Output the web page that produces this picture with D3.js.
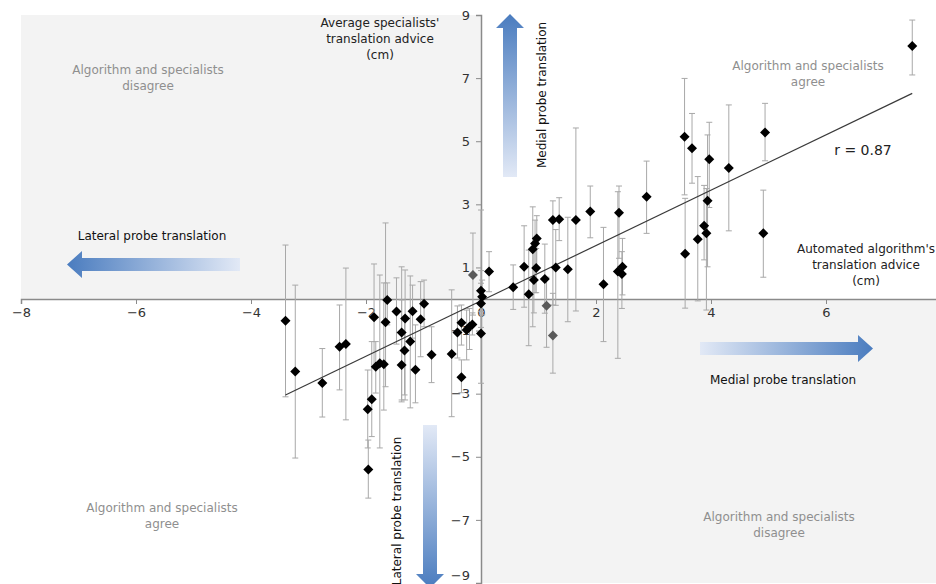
<!DOCTYPE html>
<html>
<head>
<meta charset="utf-8">
<script src="https://cdn.jsdelivr.net/npm/d3@7"></script>
<style>
  body { margin: 0; background: #fff; }
  svg { display: block; font-family: "DejaVu Sans", sans-serif; }
</style>
</head>
<body>
<svg id="chart" width="936" height="584"></svg>
<script>
// automated algorithm advice (cm), x
var algoAdvice = [-3.40,-3.23,-2.76,-2.46,-2.35,-1.97,-1.96,-1.90,-1.86,-1.83,-1.76,-1.69,-1.66,-1.63,-1.47,-1.38,-1.38,-1.33,-1.32,-1.23,-1.19,-1.14,-1.05,-0.99,-0.86,-0.51,-0.41,-0.34,-0.34,-0.25,-0.20,-0.15,-0.14,0.00,0.00,0.02,0.00,0.14,
    0.56,0.75,0.83,0.90,0.92,0.94,0.96,0.97,1.11,1.14,1.25,1.25,1.30,1.36,1.51,1.65,1.90,2.13,2.38,2.40,2.45,2.46,2.88,
    3.54,3.55,3.67,3.77,3.88,3.92,3.94,3.97,4.31,4.91,4.94,7.50];
// average specialists advice (cm), y
var specialistMean = [-0.69,-2.30,-2.66,-1.51,-1.43,-3.49,-5.40,-3.18,-0.58,-2.15,-2.04,-2.07,-0.74,-0.03,-0.40,-1.06,-2.09,-1.63,-0.62,-1.35,-0.39,-2.24,-0.64,-0.15,-1.77,-1.74,-1.06,-0.75,-2.48,-0.98,-0.88,-0.81,0.76,0.26,-0.14,0.07,-1.09,0.87,
    0.37,1.02,0.15,1.58,0.60,1.76,0.98,1.92,0.63,-0.21,2.50,-1.16,1.00,2.53,0.94,2.50,2.77,0.47,0.87,2.73,0.79,1.02,3.24,
    5.14,1.43,4.78,1.89,2.32,2.08,3.11,4.43,4.15,2.08,5.28,8.02];
// spread of specialists advice: upper and lower ends
var specialistHigh = [1.71,0.44,-1.57,-0.19,0.98,-2.25,-4.47,-1.35,1.11,-1.35,0.76,0.51,2.41,0.51,0.67,1.02,-0.03,-0.67,0.92,0.73,0.44,-0.82,0.55,0.60,-0.88,0.29,-0.22,-0.19,-1.93,-0.35,-0.30,-0.44,2.09,0.90,0.50,0.60,2.82,1.50,
    1.08,2.32,1.55,2.92,1.77,2.50,1.60,2.64,1.74,0.69,3.11,0.18,2.20,3.21,2.59,5.42,3.58,2.27,3.40,3.58,1.50,1.92,4.37,
    6.99,3.19,5.88,3.88,3.60,3.50,5.20,5.60,6.15,3.45,6.20,8.84];
var specialistLow = [-3.10,-5.04,-3.74,-2.88,-3.83,-4.72,-6.31,-4.36,-2.19,-2.98,-4.72,-3.52,-2.78,-0.82,-1.43,-3.20,-3.26,-3.04,-3.20,-3.45,-1.24,-3.29,-1.83,-0.88,-2.65,-3.73,-1.87,-1.46,-2.97,-1.93,-1.60,-1.14,-0.51,-0.40,-0.90,-0.50,-2.67,0.23,
    -0.33,-0.26,-1.48,-0.88,-0.44,0.20,0.20,1.00,-0.45,-1.53,-0.19,-2.35,-0.20,1.85,-0.72,-0.38,1.94,-1.35,-1.88,1.29,-0.30,0.13,2.08,
    3.30,-0.29,3.67,-0.06,1.24,-0.35,1.02,2.90,2.16,0.69,4.38,7.10];
// points shown in grey
var greyPoints = [32, 47, 49];

var fitSlope = 0.877, fitIntercept = -0.06, corrText = "r = 0.87";
var xTicks = [-8,-6,-4,-2,0,2,4,6];
var yTicks = [-9,-7,-5,-3,-1,1,3,5,7,9];

var svg = d3.select("#chart");
var x = d3.scaleLinear().domain([-8, 8]).range([21, 941]);
var y = d3.scaleLinear().domain([-9, 9]).range([583, 15]);

var data = algoAdvice.map(function (d, i) {
    return {x: d, y: specialistMean[i], hi: specialistHigh[i], lo: specialistLow[i], grey: greyPoints.indexOf(i) >= 0};
});

// quadrant shading
svg.append("rect")
    .attr("x", x(-8)).attr("y", y(9))
    .attr("width", x(0) - x(-8)).attr("height", y(0) - y(9))
    .attr("fill", "#f3f3f3");
svg.append("rect")
    .attr("x", x(0)).attr("y", y(0))
    .attr("width", 936 - x(0)).attr("height", y(-9) - y(0))
    .attr("fill", "#f3f3f3");

// gradients for the direction arrows
var defs = svg.append("defs");
function grad(id, x1, y1, x2, y2) {
    var g = defs.append("linearGradient").attr("id", id)
        .attr("x1", x1).attr("y1", y1).attr("x2", x2).attr("y2", y2);
    g.append("stop").attr("offset", "0%").attr("stop-color", "#4a7cbf");
    g.append("stop").attr("offset", "100%").attr("stop-color", "#e2e9f6");
}
grad("gLeft", "0%", "0%", "100%", "0%");
grad("gRight", "100%", "0%", "0%", "0%");
grad("gUp", "0%", "0%", "0%", "100%");
grad("gDown", "0%", "100%", "0%", "0%");

// horizontal arrow: tip, tail, center y
function hArrow(tip, tail, cy, fill) {
    var dir = tip < tail ? 1 : -1, head = 15;
    var pts = [[tip, cy], [tip + dir * head, cy - 13.5], [tip + dir * head, cy - 6.5], [tail, cy - 6.5],
               [tail, cy + 6.5], [tip + dir * head, cy + 6.5], [tip + dir * head, cy + 13.5]];
    svg.append("path").attr("d", d3.line()(pts) + "Z").attr("fill", fill);
}
function vArrow(tip, tail, cx, fill) {
    var dir = tip < tail ? 1 : -1, head = 14;
    var pts = [[cx, tip], [cx - 14, tip + dir * head], [cx - 7, tip + dir * head], [cx - 7, tail],
               [cx + 7, tail], [cx + 7, tip + dir * head], [cx + 14, tip + dir * head]];
    svg.append("path").attr("d", d3.line()(pts) + "Z").attr("fill", fill);
}
hArrow(67, 240, 264.5, "url(#gLeft)");
hArrow(873, 700, 348.5, "url(#gRight)");
vArrow(14, 177, 510, "url(#gUp)");
vArrow(588, 425, 430, "url(#gDown)");

// labels
function label(lines, cx, y0, color, size) {
    var t = svg.append("text").attr("text-anchor", "middle").attr("fill", color).style("font-size", (size || 12) + "px");
    lines.forEach(function (s, i) {
        t.append("tspan").attr("x", cx).attr("y", y0 + i * 16).text(s);
    });
}
label(["Algorithm and specialists", "disagree"], 148, 74, "#8f8f8f");
label(["Algorithm and specialists", "agree"], 808, 70, "#8f8f8f");
label(["Algorithm and specialists", "agree"], 162, 512, "#8f8f8f");
label(["Algorithm and specialists", "disagree"], 779, 521, "#8f8f8f");
label(["Average specialists'", "translation advice", "(cm)"], 380, 27, "#222");
label(["Automated algorithm's", "translation advice", "(cm)"], 866, 253, "#222");
label(["Lateral probe translation"], 152, 240, "#111");
label(["Medial probe translation"], 783, 384, "#111");
label([corrText], 863, 155, "#222", 14);

svg.append("text").attr("transform", "translate(546,95) rotate(-90)")
    .attr("text-anchor", "middle").attr("fill", "#111").style("font-size", "12px")
    .text("Medial probe translation");
svg.append("text").attr("transform", "translate(401,511) rotate(-90)")
    .attr("text-anchor", "middle").attr("fill", "#111").style("font-size", "12px")
    .text("Lateral probe translation");

// axes through the origin
var fmt = function (d) { return d3.format("")(d).replace("-", "\u2212"); };
var xAxis = svg.append("g").attr("transform", "translate(0," + y(0) + ")")
    .call(d3.axisBottom(x).tickValues(xTicks).tickSize(5).tickPadding(4).tickFormat(fmt));
var yAxis = svg.append("g").attr("transform", "translate(" + x(0) + ",0)")
    .call(d3.axisLeft(y).tickValues(yTicks).tickSize(5).tickPadding(6).tickFormat(fmt));
[xAxis, yAxis].forEach(function (a) {
    a.select(".domain").attr("stroke", "#8a8a8a").attr("stroke-width", 1.5);
    a.selectAll(".tick line").attr("stroke", "#8a8a8a");
    a.selectAll(".tick text").attr("fill", "#333").style("font-size", "13px").style("font-family", "DejaVu Sans, sans-serif");
});
// bottom label sits at the picture's edge, lift it so it stays whole
yAxis.selectAll(".tick text").filter(function (d) { return d === -9; }).attr("dy", "-0.3em");

// error bars
var bars = svg.append("g").attr("stroke", "#a8a8a8").attr("stroke-width", 1);
bars.selectAll(".eb").data(data).enter().append("line")
    .attr("x1", function (d) { return x(d.x); }).attr("x2", function (d) { return x(d.x); })
    .attr("y1", function (d) { return y(d.hi); }).attr("y2", function (d) { return y(d.lo); });
bars.selectAll(".capHi").data(data).enter().append("line")
    .attr("x1", function (d) { return x(d.x) - 3; }).attr("x2", function (d) { return x(d.x) + 3; })
    .attr("y1", function (d) { return y(d.hi); }).attr("y2", function (d) { return y(d.hi); });
bars.selectAll(".capLo").data(data).enter().append("line")
    .attr("x1", function (d) { return x(d.x) - 3; }).attr("x2", function (d) { return x(d.x) + 3; })
    .attr("y1", function (d) { return y(d.lo); }).attr("y2", function (d) { return y(d.lo); });

// regression line across the data range
var xr = d3.extent(algoAdvice);
svg.append("line")
    .attr("x1", x(xr[0])).attr("y1", y(fitSlope * xr[0] + fitIntercept))
    .attr("x2", x(xr[1])).attr("y2", y(fitSlope * xr[1] + fitIntercept))
    .attr("stroke", "#3a3a3a").attr("stroke-width", 1.2);

// diamonds
var diamond = d3.symbol().type(d3.symbolSquare).size(50);
svg.append("g").selectAll("path").data(data).enter().append("path")
    .attr("d", diamond)
    .attr("transform", function (d) { return "translate(" + x(d.x) + "," + y(d.y) + ") rotate(45)"; })
    .attr("fill", function (d) { return d.grey ? "#5a5a5a" : "#000"; });
</script>
</body>
</html>
